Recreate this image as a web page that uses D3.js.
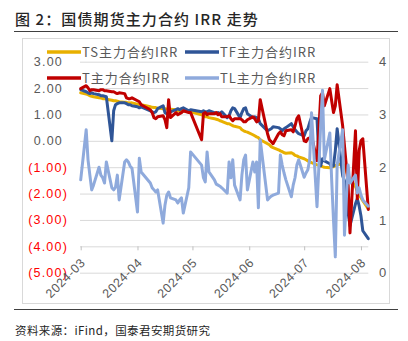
<!DOCTYPE html>
<html>
<head>
<meta charset="utf-8">
<script src="https://cdn.jsdelivr.net/npm/d3@7"></script>
<style>
  html, body { margin: 0; padding: 0; background: #fff; }
  svg { display: block; }
  .cjk { font-family: "Noto Sans CJK SC", "Noto Sans", sans-serif; }
</style>
</head>
<body>
<svg id="chart" width="408" height="341"></svg>
<script>
// Trading days covered by the chart
const dates = [
  "2024-03-01","2024-03-04","2024-03-05","2024-03-06","2024-03-07","2024-03-08",
  "2024-03-11","2024-03-12","2024-03-13","2024-03-14","2024-03-15",
  "2024-03-18","2024-03-19","2024-03-20","2024-03-21","2024-03-22",
  "2024-03-25","2024-03-26","2024-03-27","2024-03-28","2024-03-29",
  "2024-04-01","2024-04-02","2024-04-03",
  "2024-04-08","2024-04-09","2024-04-10","2024-04-11","2024-04-12",
  "2024-04-15","2024-04-16","2024-04-17","2024-04-18","2024-04-19",
  "2024-04-22","2024-04-23","2024-04-24","2024-04-25","2024-04-26",
  "2024-04-29","2024-04-30",
  "2024-05-06","2024-05-07","2024-05-08","2024-05-09","2024-05-10",
  "2024-05-13","2024-05-14","2024-05-15","2024-05-16","2024-05-17",
  "2024-05-20","2024-05-21","2024-05-22","2024-05-23","2024-05-24",
  "2024-05-27","2024-05-28","2024-05-29","2024-05-30","2024-05-31",
  "2024-06-03","2024-06-04","2024-06-05","2024-06-06","2024-06-07",
  "2024-06-11","2024-06-12","2024-06-13","2024-06-14",
  "2024-06-17","2024-06-18","2024-06-19","2024-06-20","2024-06-21",
  "2024-06-24","2024-06-25","2024-06-26","2024-06-27","2024-06-28",
  "2024-07-01","2024-07-02","2024-07-03","2024-07-04","2024-07-05",
  "2024-07-08","2024-07-09","2024-07-10","2024-07-11","2024-07-12",
  "2024-07-15","2024-07-16","2024-07-17","2024-07-18","2024-07-19",
  "2024-07-22","2024-07-23","2024-07-24","2024-07-25","2024-07-26",
  "2024-07-29","2024-07-30","2024-07-31",
  "2024-08-01","2024-08-02","2024-08-05"
];

// TS main contract IRR (%, left axis)
const tsIRR = [
  1.82,1.77,1.75,1.71,1.69,1.67, 1.63,1.62,1.60,1.60,1.58, 1.54,1.52,1.52,1.50,1.48, 1.46,1.46,1.44,1.43,1.44,
  1.39,1.37,1.37, 1.29,1.27,1.26,1.26,1.24, 1.22,1.22,1.20,1.18,1.20, 1.18,1.14,1.14,1.12,1.14, 1.10,1.10,
  0.99,0.95,0.91,0.91,0.88, 0.84,0.82,0.80,0.76,0.74, 0.65,0.65,0.61,0.57,0.55, 0.50,0.42,0.38,0.35,0.33,
  0.23,0.19,0.15,0.12,0.04, -0.11,-0.15,-0.22,-0.26, -0.34,-0.38,-0.41,-0.45,-0.47, -0.45,-0.49,-0.55,-0.57,-0.61,
  -0.68,-0.72,-0.76,-0.80,-0.83, -0.91,-0.93,-0.95,-0.98,-1.00, -1.02,-0.98,-0.98,-0.95,-0.91,
  -0.87,-0.95,-1.14,-1.33,-1.44, -1.74,-1.89,-2.05,
  -2.16,-2.27,-2.58
];

// TF main contract IRR (%, left axis)
const tfIRR = [
  1.94,1.86,1.82,1.79,1.82,1.79, 1.75,1.71,1.71,1.69,1.67, 0.00,1.14,1.37,1.41,1.44, 1.44,1.41,1.37,1.37,1.33,
  1.29,1.25,1.29, 1.14,1.10,1.07,1.10,1.22, 1.33,1.07,1.03,1.07,1.10, 1.18,1.22,1.18,1.22,1.25, 1.14,1.18,
  1.10,1.14,1.10,1.10,1.14, 1.07,1.03,1.07,1.03,1.10, 0.88,0.95,1.14,1.25,1.22, 0.88,1.07,1.22,1.25,1.03,
  0.88,0.91,0.88,0.84,0.65, 0.38,0.42,0.46,0.53, 0.50,0.46,0.38,0.46,0.50, 0.65,0.53,0.42,0.34,0.27,
  0.19,0.38,0.46,0.69,0.88, 0.84,-0.56,-0.95,-0.68,-0.76, -0.87,-0.98,-0.95,-0.37,0.46,
  -1.32,-1.52,-2.09,-2.73,-3.22, -2.39,-2.20,-2.47,
  -2.85,-3.41,-3.71
];

// T main contract IRR (%, left axis)
const tIRR = [
  1.98,2.09,2.01,1.90,1.94,1.94, 1.90,1.94,1.94,1.90,1.90, 1.86,1.86,1.82,1.79,1.82, 1.79,1.63,1.60,1.60,1.63,
  1.52,1.48,1.37, 1.18,1.07,0.88,0.84,0.91, 0.95,0.80,0.50,1.56,0.88, 1.07,0.99,1.03,1.07,1.14, 1.07,1.07,
  0.04,1.03,1.07,0.99,1.03, 1.03,1.07,0.99,1.03,0.91, 0.91,0.95,0.84,0.76,0.84, 0.84,0.80,0.72,0.72,0.80,
  0.91,0.84,0.72,0.76,1.56, 0.27,0.04,-0.03,-0.11, 0.27,0.34,0.23,0.19,0.38, 0.42,0.34,0.57,0.84,0.95,
  0.00,-0.03,0.08,0.11,0.19, -0.75,0.38,1.71,1.82,1.33, 1.98,1.52,1.07,1.33,2.13,
  0.57,-0.19,-0.94,-1.70,-3.49, 0.38,-2.20,-0.38,
  0.00,0.08,-2.60
];

// TL main contract IRR (%, right axis)
const tlIRR = [
  1.76,2.71,2.14,1.85,1.57,1.66, 2.00,1.85,1.80,1.70,2.10, 1.61,1.57,1.62,1.85,1.38, 2.10,2.14,2.10,2.02,1.98,
  1.15,2.17,1.91, 1.70,1.61,1.57,1.53,1.57, 0.94,1.28,1.47,1.53,1.42, 1.38,1.32,1.38,1.42,1.13, 1.61,2.29,
  2.04,1.80,1.72,2.29,1.91, 1.76,1.68,1.66,1.64,1.61, 1.51,2.10,1.80,2.14,1.66, 1.38,1.85,2.14,2.23,1.57,
  2.10,1.91,2.10,1.23,2.52, 1.38,1.42,1.45,1.47, 1.51,2.23,2.04,1.89,1.76, 1.44,1.66,1.80,2.04,2.14,
  1.81,1.89,1.95,2.14,3.03, 1.25,2.00,2.80,3.46,2.14, 2.65,1.76,1.00,0.30,2.04,
  2.71,0.71,1.38,2.04,1.70, 1.85,1.51,1.61,
  1.47,1.38,1.26
];

const seriesNames = ["TS主力合约IRR", "TF主力合约IRR", "T主力合约IRR", "TL主力合约IRR"];
const seriesColors = ["#E8B000", "#2F5597", "#C00000", "#8FAADC"];
const leftTicks = [3, 2, 1, 0, -1, -2, -3, -4, -5];
const rightTicks = [0, 1, 2, 3, 4];
const monthTicks = ["2024-03-01","2024-04-01","2024-05-01","2024-06-01","2024-07-01","2024-08-01"];

const titleText = "图 2：国债期货主力合约 IRR 走势";
const sourceText = "资料来源：iFind，国泰君安期货研究";

const parse = d3.timeParse("%Y-%m-%d");
const svg = d3.select("#chart");

const plot = { left: 80.7, right: 368.3, top: 61.7, bottom: 272.7 };

const x = d3.scaleTime()
  .domain([parse(dates[0]), parse(dates[dates.length - 1])])
  .range([plot.left, plot.right]);
const yL = d3.scaleLinear().domain([-5, 3]).range([plot.bottom, plot.top]);
const yR = d3.scaleLinear().domain([0, 4]).range([plot.bottom, plot.top]);

// Title and rules
svg.append("text").attr("class", "cjk")
  .attr("x", 15).attr("y", 25)
  .attr("font-size", 15).attr("font-weight", 500)
  .attr("letter-spacing", 1.1)
  .attr("fill", "#262626")
  .text(titleText);
svg.append("line").attr("x1", 14).attr("x2", 398).attr("y1", 31.5).attr("y2", 31.5)
  .attr("stroke", "#404040").attr("stroke-width", 1.2);
svg.append("rect").attr("x", 22.5).attr("y", 38.5).attr("width", 367).attr("height", 265)
  .attr("fill", "none").attr("stroke", "#d9d9d9").attr("stroke-width", 1);
svg.append("line").attr("x1", 14).attr("x2", 398).attr("y1", 309.5).attr("y2", 309.5)
  .attr("stroke", "#404040").attr("stroke-width", 1.2);
svg.append("text").attr("class", "cjk")
  .attr("x", 15).attr("y", 335)
  .attr("font-size", 11.5).attr("fill", "#262626")
  .attr("letter-spacing", 0.4)
  .text(sourceText);

// Gridlines
svg.append("g")
  .attr("transform", `translate(${plot.left - 0.7},0)`)
  .call(d3.axisLeft(yL).tickValues(leftTicks).tickSize(-(plot.right - plot.left + 0.7)).tickFormat(""))
  .call(g => g.select(".domain").remove())
  .call(g => g.selectAll(".tick line").attr("stroke", "#d9d9d9").attr("stroke-width", 1));

// Left axis labels
const fmtL = v => v < 0 ? `(${d3.format(".2f")(-v)})` : d3.format(".2f")(v);
svg.append("g")
  .attr("transform", "translate(67,0)")
  .call(d3.axisLeft(yL).tickValues(leftTicks).tickSize(0).tickPadding(0).tickFormat(fmtL))
  .call(g => g.select(".domain").remove())
  .call(g => g.selectAll(".tick text")
    .attr("font-family", "Liberation Sans, sans-serif")
    .attr("font-size", 12.5)
    .attr("letter-spacing", 1.2)
    .attr("x", d => d < 0 ? 1 : -4)
    .attr("fill", d => d < 0 ? "#FF0000" : "#595959"));

// Right axis labels
svg.append("g")
  .attr("transform", "translate(379,0)")
  .call(d3.axisRight(yR).tickValues(rightTicks).tickSize(0).tickPadding(0).tickFormat(d3.format("d")))
  .call(g => g.select(".domain").remove())
  .call(g => g.selectAll(".tick text")
    .attr("font-family", "Liberation Sans, sans-serif")
    .attr("font-size", 13)
    .attr("fill", "#595959"));

// Date axis (crosses at -4)
const xAxisY = yL(-4);
svg.append("g")
  .attr("transform", `translate(0,${xAxisY})`)
  .call(d3.axisBottom(x).tickValues(monthTicks.map(parse)).tickSize(4).tickFormat(d3.timeFormat("%Y-%m")))
  .call(g => g.select(".domain").remove())
  .call(g => g.selectAll(".tick line").attr("stroke", "#bfbfbf"))
  .call(g => g.selectAll(".tick text")
    .attr("font-family", "Liberation Sans, sans-serif")
    .attr("font-size", 12.5)
    .attr("letter-spacing", 0.6)
    .attr("fill", "#595959")
    .attr("text-anchor", "end")
    .attr("y", 0).attr("dy", 0)
    .attr("transform", "translate(5,17) rotate(-45)"));

// Series lines
const series = [
  { values: tsIRR, y: yL },
  { values: tfIRR, y: yL },
  { values: tIRR,  y: yL },
  { values: tlIRR, y: yR }
];
series.forEach((s, i) => {
  const line = d3.line()
    .x((d, j) => x(parse(dates[j])))
    .y(d => s.y(d));
  svg.append("path")
    .datum(s.values)
    .attr("d", line)
    .attr("fill", "none")
    .attr("stroke", seriesColors[i])
    .attr("stroke-width", 3)
    .attr("stroke-linejoin", "round")
    .attr("stroke-linecap", "round");
});

// Legend
const legendPos = [[47, 52], [185, 52], [47, 78], [185, 78]];
seriesNames.forEach((name, i) => {
  const [lx, ly] = legendPos[i];
  const g = svg.append("g").attr("transform", `translate(${lx},${ly})`);
  g.append("line").attr("x1", 0).attr("x2", 34).attr("y1", 0).attr("y2", 0)
    .attr("stroke", seriesColors[i]).attr("stroke-width", 3.5);
  g.append("text").attr("class", "cjk")
    .attr("x", 35).attr("y", 0).attr("dy", "0.35em")
    .attr("font-size", 13).attr("letter-spacing", 1)
    .attr("fill", "#595959")
    .text(name);
});
</script>
</body>
</html>
